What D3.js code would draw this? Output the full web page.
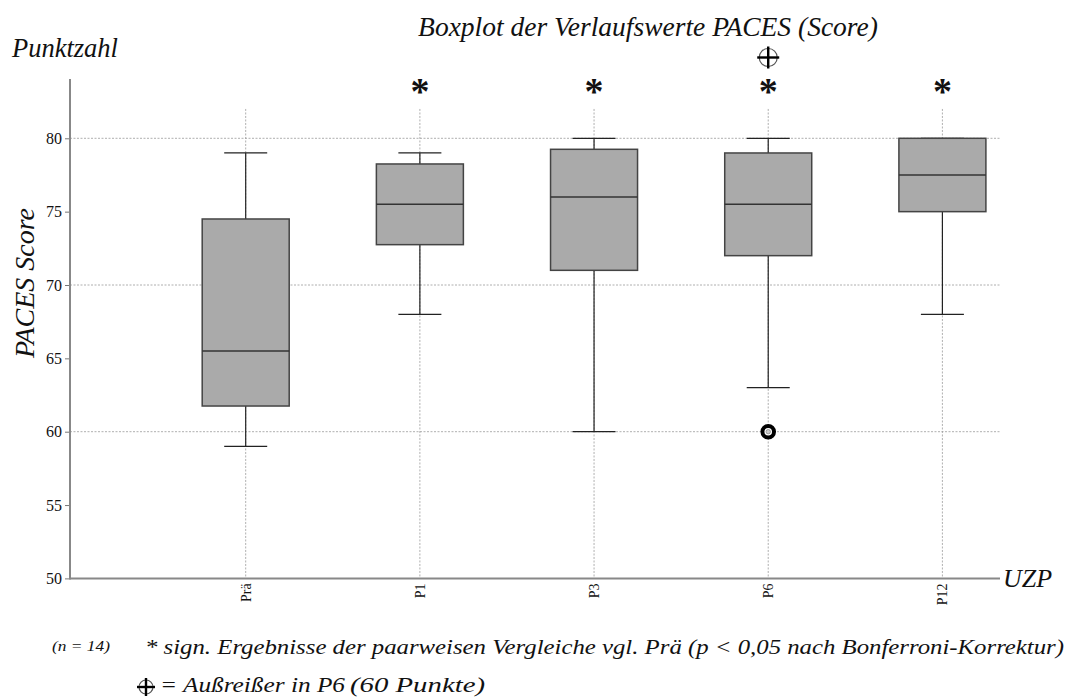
<!DOCTYPE html>
<html>
<head>
<meta charset="utf-8">
<script src="https://cdn.jsdelivr.net/npm/d3@7"></script>
<style>
  html, body { margin: 0; padding: 0; background: #fff; }
  svg { display: block; }
</style>
</head>
<body>
<svg id="chart" width="1068" height="697"></svg>
<script>
// Measurement times (UZP) and box plot statistics of the PACES score
const categories  = ["Prä", "P1", "P3", "P6", "P12"];
const whiskerLow  = [59, 68, 60, 63, 68];
const quartile1   = [61.75, 72.75, 71, 72, 75];
const medians     = [65.5, 75.5, 76, 75.5, 77.5];
const quartile3   = [74.5, 78.25, 79.25, 79, 80];
const whiskerHigh = [79, 79, 80, 80, 80];
const outliers    = [{ cat: "P6", value: 60 }];
const significant = ["P1", "P3", "P6", "P12"];
const yTicks      = [50, 55, 60, 65, 70, 75, 80];
const gridValues  = [60, 70, 80];

const SERIF = '"Liberation Serif"';
const svg = d3.select("#chart");

const axisLeftX = 70, axisRightX = 1000;
const y = d3.scaleLinear().domain([50, 80]).range([578.4, 138.3]);
const x = d3.scalePoint().domain(categories).range([245.7, 942.4]);

const boxHalf = 43.5, capHalf = 21.5;

// horizontal dashed grid
svg.append("g").selectAll("line").data(gridValues).join("line")
  .attr("x1", axisLeftX).attr("x2", axisRightX)
  .attr("y1", d => y(d)).attr("y2", d => y(d))
  .attr("stroke", "#9a9a9a").attr("stroke-width", 0.8)
  .attr("stroke-dasharray", "2,1.5");

// vertical dashed guides per time point
svg.append("g").selectAll("line").data(categories).join("line")
  .attr("x1", d => x(d)).attr("x2", d => x(d))
  .attr("y1", y(82)).attr("y2", y(50))
  .attr("stroke", "#9a9a9a").attr("stroke-width", 0.8)
  .attr("stroke-dasharray", "2,1.5");

// y axis
const yAxis = svg.append("g")
  .attr("transform", `translate(${axisLeftX},0)`)
  .call(d3.axisLeft(y).tickValues(yTicks).tickSize(5).tickPadding(3));
yAxis.select(".domain").remove();
yAxis.selectAll(".tick line").attr("stroke", "#777").attr("stroke-width", 1);
yAxis.selectAll(".tick text")
  .style("font-family", SERIF).style("fill", "#111").style("font-size", "16px");
svg.append("line")
  .attr("x1", axisLeftX).attr("x2", axisLeftX)
  .attr("y1", 79).attr("y2", y(50) + 1)
  .attr("stroke", "#888").attr("stroke-width", 2);

// x axis
svg.append("line")
  .attr("x1", axisLeftX).attr("x2", axisRightX)
  .attr("y1", y(50)).attr("y2", y(50))
  .attr("stroke", "#888").attr("stroke-width", 2);

svg.append("g").selectAll("text").data(categories).join("text")
  .attr("transform", d => `translate(${x(d) + 5},${y(50) + 5}) rotate(-90)`)
  .attr("text-anchor", "end")
  .style("font-family", SERIF).style("fill", "#111").style("font-size", "14px")
  .text(d => d);

// whiskers
const boxes = svg.append("g");
categories.forEach((c, i) => {
  const cx = x(c);
  boxes.append("line")
    .attr("x1", cx).attr("x2", cx)
    .attr("y1", y(whiskerHigh[i])).attr("y2", y(whiskerLow[i]))
    .attr("stroke", "#222").attr("stroke-width", 1.2);
  [whiskerHigh[i], whiskerLow[i]].forEach(v => {
    boxes.append("line")
      .attr("x1", cx - capHalf).attr("x2", cx + capHalf)
      .attr("y1", y(v)).attr("y2", y(v))
      .attr("stroke", "#222").attr("stroke-width", 1.2);
  });
});

// boxes and medians
boxes.selectAll("rect").data(categories).join("rect")
  .attr("x", d => x(d) - boxHalf)
  .attr("width", boxHalf * 2)
  .attr("y", (d, i) => y(quartile3[i]))
  .attr("height", (d, i) => y(quartile1[i]) - y(quartile3[i]))
  .attr("fill", "#aaaaaa").attr("stroke", "#444").attr("stroke-width", 1.5);

boxes.selectAll("line.median").data(categories).join("line")
  .attr("class", "median")
  .attr("x1", d => x(d) - boxHalf).attr("x2", d => x(d) + boxHalf)
  .attr("y1", (d, i) => y(medians[i])).attr("y2", (d, i) => y(medians[i]))
  .attr("stroke", "#333").attr("stroke-width", 1.5);

// outlier marker
outliers.forEach(o => {
  const g = svg.append("g").attr("transform", `translate(${x(o.cat)},${y(o.value)})`);
  g.append("circle").attr("r", 5.8).attr("fill", "#fff").attr("stroke", "#000").attr("stroke-width", 4);
  g.append("circle").attr("r", 2.2).attr("fill", "#ccc").attr("stroke", "#888").attr("stroke-width", 0.8);
});

// significance asterisks
svg.append("g").selectAll("text").data(significant).join("text")
  .attr("x", d => x(d)).attr("y", 104)
  .attr("text-anchor", "middle")
  .style("font-family", SERIF).style("fill", "#111")
  .style("font-size", "38px").style("font-weight", "bold")
  .text("*");

// crosshair symbol (outlier note)
function crosshair(gx, gy, r, arm) {
  const g = svg.append("g").attr("transform", `translate(${gx},${gy})`);
  g.append("circle").attr("r", r).attr("fill", "none").attr("stroke", "#555").attr("stroke-width", 1.2);
  g.append("line").attr("x1", -arm).attr("x2", arm).attr("y1", 0).attr("y2", 0)
    .attr("stroke", "#000").attr("stroke-width", 2.4);
  g.append("line").attr("x1", 0).attr("x2", 0).attr("y1", -arm).attr("y2", arm)
    .attr("stroke", "#000").attr("stroke-width", 2.4);
}
crosshair(x("P6"), 57.5, 9, 11);

// italic text helper
function italic(parent, size) {
  return parent.append("text")
    .style("font-family", SERIF).style("fill", "#111")
    .style("font-size", size + "px").style("font-style", "italic");
}

// titles
italic(svg, 27.5).attr("x", 648).attr("y", 36).attr("text-anchor", "middle")
  .text("Boxplot der Verlaufswerte PACES (Score)");

italic(svg, 26.5).attr("x", 12).attr("y", 57)
  .text("Punktzahl");

italic(svg, 28).attr("transform", "translate(34,283) rotate(-90)")
  .attr("text-anchor", "middle")
  .text("PACES Score");

italic(svg, 26).attr("x", 1003).attr("y", 587)
  .text("UZP");

// footnotes
italic(svg, 14.5).attr("x", 52).attr("y", 651)
  .attr("textLength", 58).attr("lengthAdjust", "spacingAndGlyphs")
  .text("(n = 14)");

italic(svg, 21).attr("x", 145).attr("y", 654)
  .attr("textLength", 919).attr("lengthAdjust", "spacingAndGlyphs")
  .text("* sign. Ergebnisse der paarweisen Vergleiche vgl. Prä (p < 0,05 nach Bonferroni-Korrektur)");

crosshair(146, 687, 7, 9);

italic(svg, 22).attr("x", 160).attr("y", 692)
  .attr("textLength", 185).attr("lengthAdjust", "spacingAndGlyphs")
  .text("= Außreißer in  P6");
italic(svg, 20).attr("x", 350).attr("y", 692)
  .attr("textLength", 135).attr("lengthAdjust", "spacingAndGlyphs")
  .text("(60 Punkte)");
</script>
</body>
</html>
